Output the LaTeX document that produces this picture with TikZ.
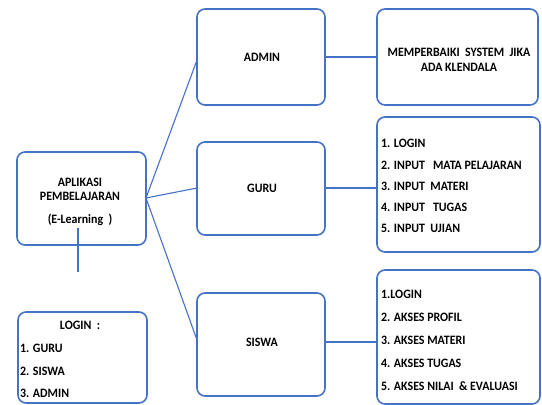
\documentclass[tikz,border=0pt]{standalone}
\usepackage{fontspec}
\setmainfont{Carlito}
\definecolor{lineblue}{HTML}{4472C4}
\begin{document}
\begin{tikzpicture}[x=1pt,y=-1pt,
  box/.style={draw=lineblue,line width=1.6pt,rounded corners=8pt},
  conn/.style={draw=lineblue,line width=1.1pt},
  txt/.style={font=\bfseries\fontsize{12.8}{14}\selectfont,inner sep=0pt,xscale=0.93}]
\useasboundingbox (0,0) rectangle (542,405);
% boxes
\draw[box] (17,152) rectangle (146,245);
\draw[box] (18,312) rectangle (147,403);
\draw[box] (197,9) rectangle (325,105);
\draw[box] (197,142) rectangle (325,235);
\draw[box] (197,293) rectangle (325,396);
\draw[box] (377,9) rectangle (538,105);
\draw[box] (377,117) rectangle (540,252);
\draw[box] (377,270) rectangle (540,404);
% named anchors
\coordinate (mainR) at (146,198);
\coordinate (mainL) at (78,228);
\coordinate (mainE) at (78,272);
\coordinate (adminL) at (197,60);
\coordinate (guruL) at (197,188);
\coordinate (siswaL) at (197,340);
\coordinate (adminR) at (325,57);
\coordinate (memL) at (377,57);
\coordinate (guruR) at (325,188);
\coordinate (glistL) at (377,188);
\coordinate (siswaR) at (325,342);
\coordinate (slistL) at (377,342);
% connectors
\draw[conn] (mainR) -- (adminL);
\draw[conn] (mainR) -- (guruL);
\draw[conn] (mainR) -- (siswaL);
\draw[conn] (adminR) -- (memL);
\draw[conn] (guruR) -- (glistL);
\draw[conn] (siswaR) -- (slistL);
\draw[draw=lineblue,line width=2pt] (mainL) -- (mainE);
% texts
\node[txt] (t1) at (80,182) {APLIKASI};
\node[txt] (t2) at (80,196) {PEMBELAJARAN};
\node[txt] (t3) at (80,220) {(E-Learning\ \ )};
\node[txt] (l0) at (80,325) {LOGIN\ \ :};
\node[txt,anchor=west] (l1) at (20,348) {1. GURU};
\node[txt,anchor=west] (l2) at (20,371) {2. SISWA};
\node[txt,anchor=west] (l3) at (20,393) {3. ADMIN};
\node[txt] (ta) at (262,57) {ADMIN};
\node[txt] (tg) at (262,188) {GURU};
\node[txt] (ts) at (262,342) {SISWA};
\node[txt] (m1) at (459,52) {MEMPERBAIKI\ \ SYSTEM\ \ JIKA};
\node[txt] (m2) at (459,67) {ADA KLENDALA};
\node[txt,anchor=west] (g1) at (381,143) {1. LOGIN};
\node[txt,anchor=west] (g2) at (381,165) {2. INPUT\ \ \ MATA PELAJARAN};
\node[txt,anchor=west] (g3) at (381,186) {3. INPUT\ \ MATERI};
\node[txt,anchor=west] (g4) at (381,207) {4. INPUT\ \ \ TUGAS};
\node[txt,anchor=west] (g5) at (381,228) {5. INPUT\ \ UJIAN};
\node[txt,anchor=west] (s1) at (381,294) {1.LOGIN};
\node[txt,anchor=west] (s2) at (381,317) {2. AKSES\ PROFIL};
\node[txt,anchor=west] (s3) at (381,340) {3. AKSES\ MATERI};
\node[txt,anchor=west] (s4) at (381,363) {4. AKSES\ TUGAS};
\node[txt,anchor=west] (s5) at (381,386) {5. AKSES\ NILAI\ \ \& EVALUASI};
\end{tikzpicture}
\end{document}
